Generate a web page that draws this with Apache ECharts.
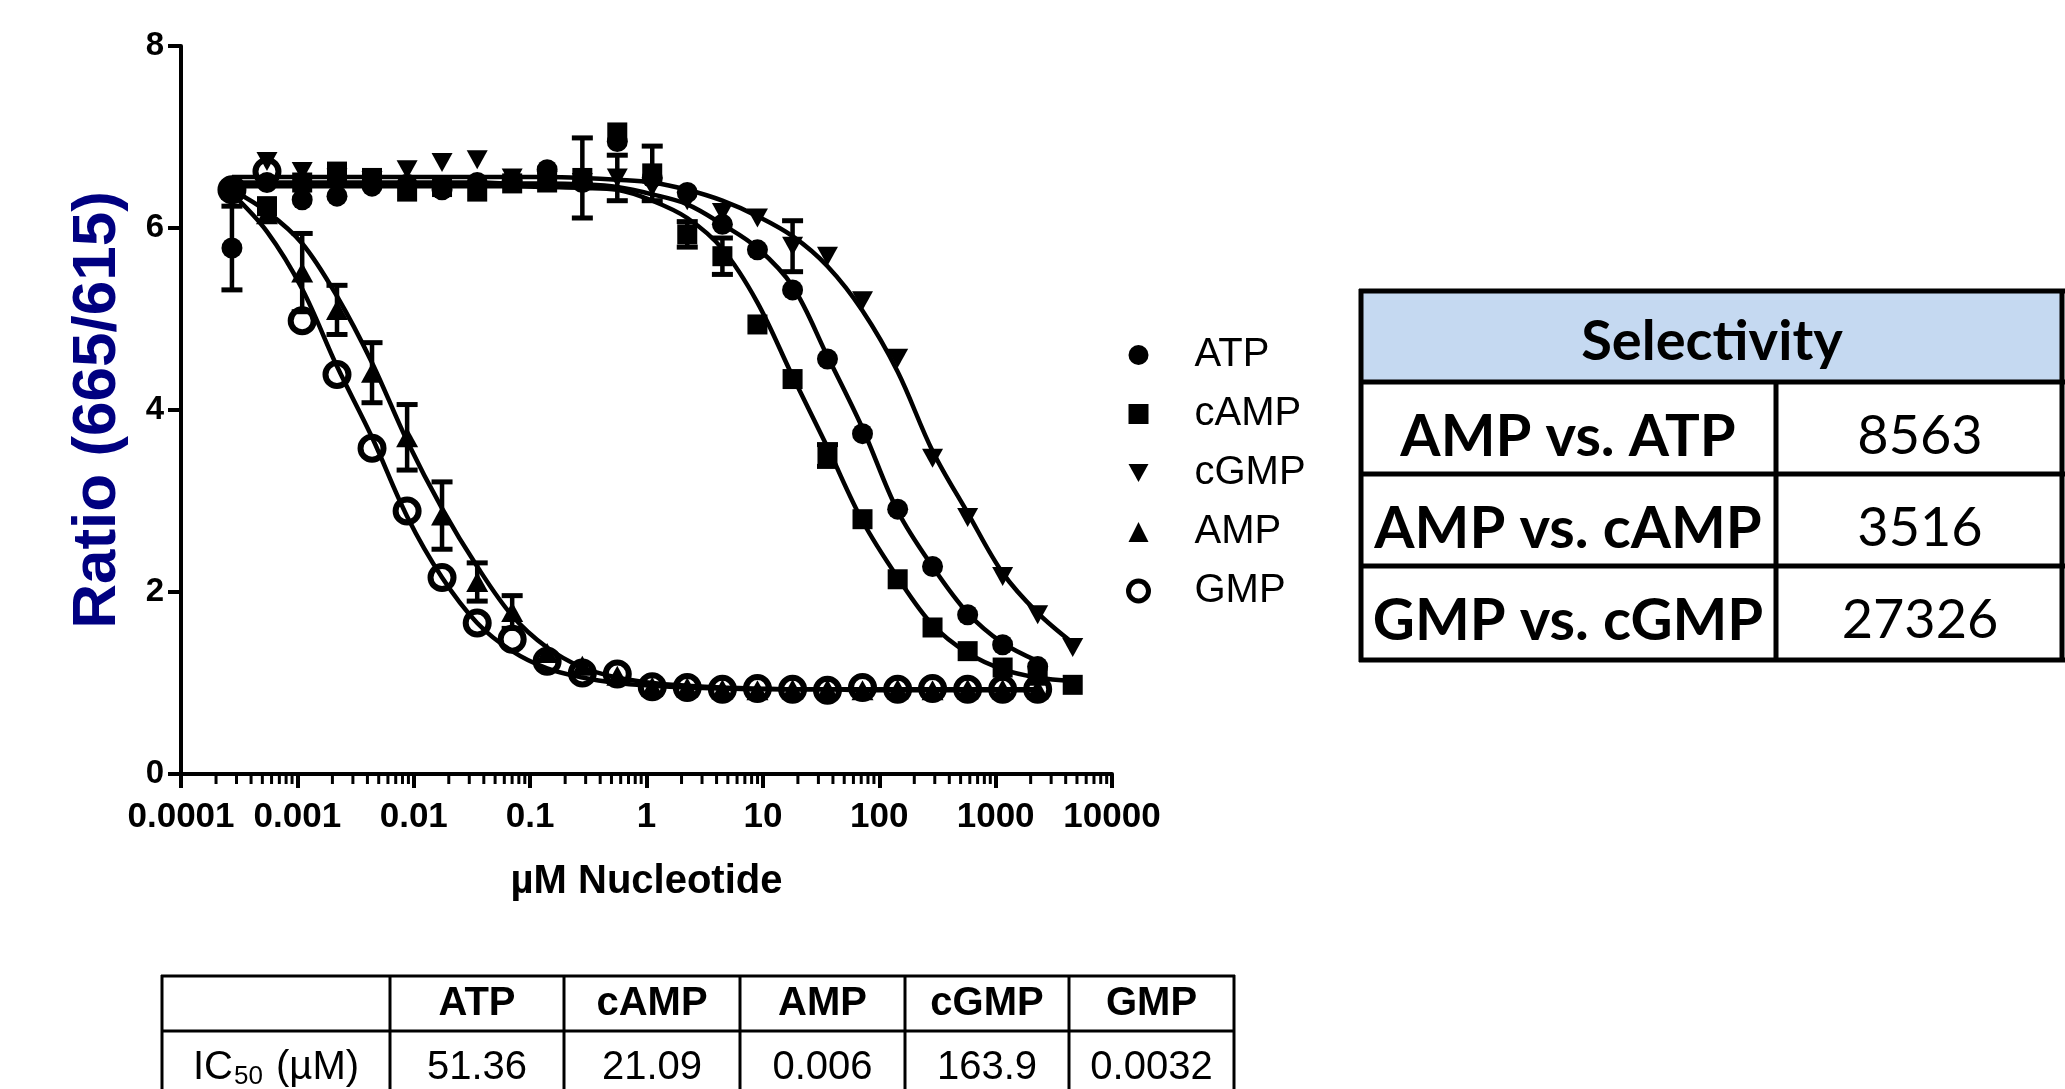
<!DOCTYPE html>
<html>
<head>
<meta charset="utf-8">
<script src="https://cdn.jsdelivr.net/npm/echarts@6/dist/echarts.min.js"></script>
<style>
  html, body { margin: 0; padding: 0; background: #fff; }
  #chart { width: 2065px; height: 1089px; }
</style>
</head>
<body>
<div id="chart"></div>
<script>
// 2-fold dilution series (uM)
var conc = [0.000274, 0.000548, 0.0011, 0.00219, 0.00438, 0.00877, 0.0175, 0.0351, 0.0701, 0.140,
            0.281, 0.561, 1.12, 2.24, 4.49, 8.98, 18.0, 35.9, 71.8, 144, 287, 575, 1149, 2298, 4597];
var xTickLabels = ['0.0001', '0.001', '0.01', '0.1', '1', '10', '100', '1000', '10000'];
var minorTicks = [];
for (var d = -4; d < 4; d++) {
  for (var m = 2; m <= 9; m++) minorTicks.push(m * Math.pow(10, d));
}

var atp     = [5.78, 6.50, 6.31, 6.35, 6.46, 6.48, 6.42, 6.50, 6.52, 6.64, 6.50, 6.95, 6.55, 6.39, 6.04, 5.76, 5.32, 4.56, 3.74, 2.91, 2.28, 1.75, 1.42, 1.18];
var atpErr  = [0.46, 0, 0, 0, 0, 0, 0, 0, 0, 0, 0, 0, 0, 0, 0, 0, 0, 0, 0, 0, 0, 0, 0, 0];
var atpFit  = [6.50, 6.50, 6.50, 6.50, 6.50, 6.50, 6.50, 6.50, 6.49, 6.49, 6.48, 6.45, 6.37, 6.26, 6.04, 5.78, 5.36, 4.59, 3.80, 2.89, 2.28, 1.77, 1.44, 1.24];

var camp    = [6.42, 6.24, 6.50, 6.62, 6.55, 6.40, 6.45, 6.40, 6.49, 6.50, 6.55, 7.05, 6.60, 5.93, 5.69, 4.94, 4.34, 3.50, 2.80, 2.14, 1.61, 1.35, 1.17, 1.08, 0.98];
var campErr = [0, 0, 0, 0, 0, 0, 0, 0, 0, 0, 0.44, 0, 0.30, 0.14, 0.20, 0, 0, 0.12, 0, 0, 0, 0, 0, 0, 0];
var campFit = [6.46, 6.46, 6.46, 6.46, 6.46, 6.46, 6.46, 6.46, 6.46, 6.45, 6.44, 6.42, 6.30, 6.11, 5.77, 5.18, 4.37, 3.59, 2.78, 2.16, 1.64, 1.33, 1.15, 1.06, 1.02];

var cgmp    = [6.42, 6.73, 6.62, 6.55, 6.52, 6.64, 6.72, 6.75, 6.55, 6.52, 6.50, 6.55, 6.45, 6.30, 6.17, 6.11, 5.80, 5.69, 5.20, 4.57, 3.47, 2.82, 2.17, 1.75, 1.39];
var cgmpErr = [0, 0, 0, 0, 0, 0, 0, 0, 0, 0, 0, 0.25, 0, 0, 0, 0, 0.28, 0, 0, 0, 0, 0, 0, 0, 0];
var cgmpFit = [6.56, 6.56, 6.56, 6.56, 6.56, 6.56, 6.56, 6.56, 6.56, 6.56, 6.55, 6.53, 6.50, 6.42, 6.30, 6.13, 5.91, 5.58, 5.09, 4.42, 3.55, 2.87, 2.21, 1.77, 1.44];

var amp     = [6.42, 6.15, 5.51, 5.10, 4.41, 3.70, 2.84, 2.11, 1.78, 1.33, 1.19, 1.08, 0.96, 0.95, 0.93, 0.92, 0.93, 0.93, 0.92, 0.93, 0.92, 0.93, 0.93, 0.93];
var ampErr  = [0, 0, 0.43, 0.27, 0.33, 0.36, 0.37, 0.21, 0.18, 0, 0, 0, 0, 0, 0, 0, 0, 0, 0, 0, 0, 0, 0, 0];
var ampFit  = [6.42, 6.18, 5.83, 5.25, 4.52, 3.66, 2.92, 2.28, 1.74, 1.39, 1.17, 1.06, 1.00, 0.97, 0.95, 0.94, 0.93, 0.93, 0.93, 0.93, 0.93, 0.93, 0.93, 0.93];

var gmp     = [6.42, 6.62, 4.98, 4.39, 3.58, 2.89, 2.16, 1.66, 1.48, 1.24, 1.11, 1.10, 0.96, 0.95, 0.93, 0.94, 0.93, 0.92, 0.95, 0.93, 0.94, 0.93, 0.93, 0.93];
var gmpFit  = [6.38, 5.96, 5.33, 4.48, 3.70, 2.83, 2.16, 1.66, 1.35, 1.16, 1.06, 1.00, 0.97, 0.95, 0.94, 0.93, 0.93, 0.93, 0.92, 0.92, 0.92, 0.92, 0.92, 0.92];

var seriesNames = ['ATP', 'cAMP', 'cGMP', 'AMP', 'GMP'];

var selRows   = ['AMP vs. ATP', 'AMP vs. cAMP', 'GMP vs. cGMP'];
var selValues = ['8563', '3516', '27326'];
var ic50Cols   = ['ATP', 'cAMP', 'AMP', 'cGMP', 'GMP'];
var ic50Values = ['51.36', '21.09', '0.006', '163.9', '0.0032'];

var FONT = '"Liberation Sans", Arial, sans-serif';
var CAL = 'Lato, "Open Sans", sans-serif';

function pairs(vals) {
  return vals.map(function (v, i) { return [conc[i], v]; });
}
function errTriples(vals, errs) {
  var out = [];
  vals.forEach(function (v, i) { if (errs[i] > 0) out.push([conc[i], v, errs[i]]); });
  return out;
}

var errData = [].concat(errTriples(atp, atpErr), errTriples(camp, campErr),
  errTriples(cgmp, cgmpErr), errTriples(amp, ampErr));

function fitLine(name, vals) {
  return {
    type: 'line', name: name + ' fit', data: pairs(vals), smooth: 0.35,
    showSymbol: false, silent: true, z: 2,
    lineStyle: { color: '#000', width: 4.5 }
  };
}

var black = { color: '#000', opacity: 1 };
var ring = { color: 'rgba(0,0,0,0)', borderColor: '#000', borderWidth: 6, opacity: 1 };

var chart = echarts.init(document.getElementById('chart'));

var option = {
  animation: false,
  backgroundColor: '#fff',
  grid: { left: 181, top: 46, width: 931, height: 728 },
  legend: {
    data: seriesNames.map(function (n) {
      return n === 'GMP' ? { name: n, itemStyle: { color: 'rgba(0,0,0,0)', borderColor: '#000', borderWidth: 5 } } : { name: n };
    }),
    orient: 'vertical',
    left: 1121, top: 330,
    itemWidth: 20, itemHeight: 20, itemGap: 19,
    formatter: function (n) { return '{g|}' + n; },
    textStyle: {
      fontFamily: FONT, fontSize: 40, color: '#000', lineHeight: 40,
      rich: { g: { width: 41 } }
    }
  },
  xAxis: {
    type: 'log', logBase: 10, min: 0.0001, max: 10000,
    name: 'µM Nucleotide', nameLocation: 'middle', nameGap: 88,
    nameTextStyle: { fontFamily: FONT, fontSize: 40, fontWeight: 'bold', color: '#000' },
    axisLine: { lineStyle: { color: '#000', width: 4 } },
    axisTick: { length: 14, lineStyle: { color: '#000', width: 4 } },
    splitLine: { show: false },
    axisLabel: {
      fontFamily: FONT, fontSize: 35, fontWeight: 'bold', color: '#000', margin: 26,
      formatter: function (v) { return xTickLabels[Math.round(Math.log10(v)) + 4]; }
    }
  },
  yAxis: {
    type: 'value', min: 0, max: 8, interval: 2,
    name: 'Ratio (665/615)', nameLocation: 'middle', nameGap: 52,
    nameTextStyle: { fontFamily: FONT, fontSize: 62, fontWeight: 'bold', color: '#000080' },
    axisLine: { show: true, lineStyle: { color: '#000', width: 4 } },
    axisTick: { show: true, length: 13, lineStyle: { color: '#000', width: 4 } },
    splitLine: { show: false },
    axisLabel: { fontFamily: FONT, fontSize: 33, fontWeight: 'bold', color: '#000', margin: 17 }
  },
  series: [
    fitLine('ATP', atpFit), fitLine('cAMP', campFit), fitLine('cGMP', cgmpFit),
    fitLine('AMP', ampFit), fitLine('GMP', gmpFit),
    {
      type: 'custom', name: 'minor ticks', silent: true, clip: false, z: 10,
      data: minorTicks.map(function (v) { return [v, 0]; }),
      encode: { x: 0, y: 1 },
      renderItem: function (params, api) {
        var p = api.coord([api.value(0), 0]);
        return { type: 'rect', shape: { x: p[0] - 1.5, y: p[1], width: 3, height: 10 },
                 style: { fill: '#000' } };
      }
    },
    {
      type: 'custom', name: 'error bars', silent: true, z: 3,
      data: errData,
      encode: { x: 0, y: 1 },
      renderItem: function (params, api) {
        var x = api.value(0), y = api.value(1), e = api.value(2);
        var t = api.coord([x, y + e]), b = api.coord([x, y - e]);
        var s = { stroke: '#000', lineWidth: 4.5 };
        var c = { stroke: '#000', lineWidth: 5 };
        return { type: 'group', children: [
          { type: 'line', shape: { x1: t[0], y1: t[1], x2: b[0], y2: b[1] }, style: s },
          { type: 'line', shape: { x1: t[0] - 10.5, y1: t[1], x2: t[0] + 10.5, y2: t[1] }, style: c },
          { type: 'line', shape: { x1: b[0] - 10.5, y1: b[1], x2: b[0] + 10.5, y2: b[1] }, style: c }
        ] };
      }
    },
    { type: 'scatter', name: 'ATP', data: pairs(atp), symbol: 'circle', symbolSize: 21, z: 4,
      itemStyle: black },
    { type: 'scatter', name: 'cAMP', data: pairs(camp), symbol: 'rect', symbolSize: 20, z: 4,
      itemStyle: black },
    { type: 'scatter', name: 'cGMP', data: pairs(cgmp), symbol: 'path://M0,0L20,0L10,18Z',
      symbolSize: [21, 19], z: 4, itemStyle: black },
    { type: 'scatter', name: 'AMP', data: pairs(amp), symbol: 'triangle', symbolSize: [22, 20], z: 5,
      itemStyle: black },
    { type: 'scatter', name: 'GMP', data: pairs(gmp), symbol: 'circle', symbolSize: 23, z: 4,
      itemStyle: ring }
  ],
  graphic: []
};

// Selectivity table
var g = option.graphic;
g.push({ type: 'rect', shape: { x: 1361, y: 291, width: 702, height: 91 }, style: { fill: '#c5d9f1' }, z: 1 });
[291, 382, 474, 566, 660].forEach(function (y) {
  g.push({ type: 'line', shape: { x1: 1359, y1: y, x2: 2065, y2: y }, style: { stroke: '#000', lineWidth: 5 }, z: 2 });
});
[[1361, 289, 662], [2062, 289, 662], [1776, 382, 662]].forEach(function (l) {
  g.push({ type: 'line', shape: { x1: l[0], y1: l[1], x2: l[0], y2: l[2] }, style: { stroke: '#000', lineWidth: 5 }, z: 2 });
});
g.push({ type: 'text', x: 1712, y: 342, z: 3,
  style: { text: 'Selectivity', fill: '#000', font: 'bold 56px ' + CAL, align: 'center', verticalAlign: 'middle' } });
selRows.forEach(function (r, i) {
  var cy = 437 + i * 92;
  g.push({ type: 'text', x: 1568, y: cy, z: 3,
    style: { text: r, fill: '#000', font: 'bold 58px ' + CAL, align: 'center', verticalAlign: 'middle' } });
  g.push({ type: 'text', x: 1920, y: cy, z: 3,
    style: { text: selValues[i], fill: '#000', font: '54px ' + CAL, align: 'center', verticalAlign: 'middle' } });
});

// IC50 table
var colX = [162, 390, 564, 740, 905, 1069, 1234];
[976, 1031].forEach(function (y) {
  g.push({ type: 'line', shape: { x1: 161, y1: y, x2: 1235, y2: y }, style: { stroke: '#000', lineWidth: 3 } });
});
colX.forEach(function (x) {
  g.push({ type: 'line', shape: { x1: x, y1: 975, x2: x, y2: 1089 }, style: { stroke: '#000', lineWidth: 3 } });
});
ic50Cols.forEach(function (c, i) {
  var cx = (colX[i + 1] + colX[i + 2]) / 2;
  g.push({ type: 'text', x: cx, y: 1004,
    style: { text: c, fill: '#000', font: 'bold 40px ' + FONT, align: 'center', verticalAlign: 'middle' } });
  g.push({ type: 'text', x: cx, y: 1068,
    style: { text: ic50Values[i], fill: '#000', font: '40px ' + FONT, align: 'center', verticalAlign: 'middle' } });
});
g.push({ type: 'text', x: 276, y: 1068,
  style: {
    text: '{a|IC}{b|50}{a| (µM)}', align: 'center', verticalAlign: 'middle', fill: '#000',
    rich: {
      a: { fontFamily: FONT, fontSize: 40, lineHeight: 44 },
      b: { fontFamily: FONT, fontSize: 26, lineHeight: 26, verticalAlign: 'bottom', padding: [0, 2, 0, 1] }
    }
  } });

chart.setOption(option);
window.onresize = chart.resize;
</script>
</body>
</html>
